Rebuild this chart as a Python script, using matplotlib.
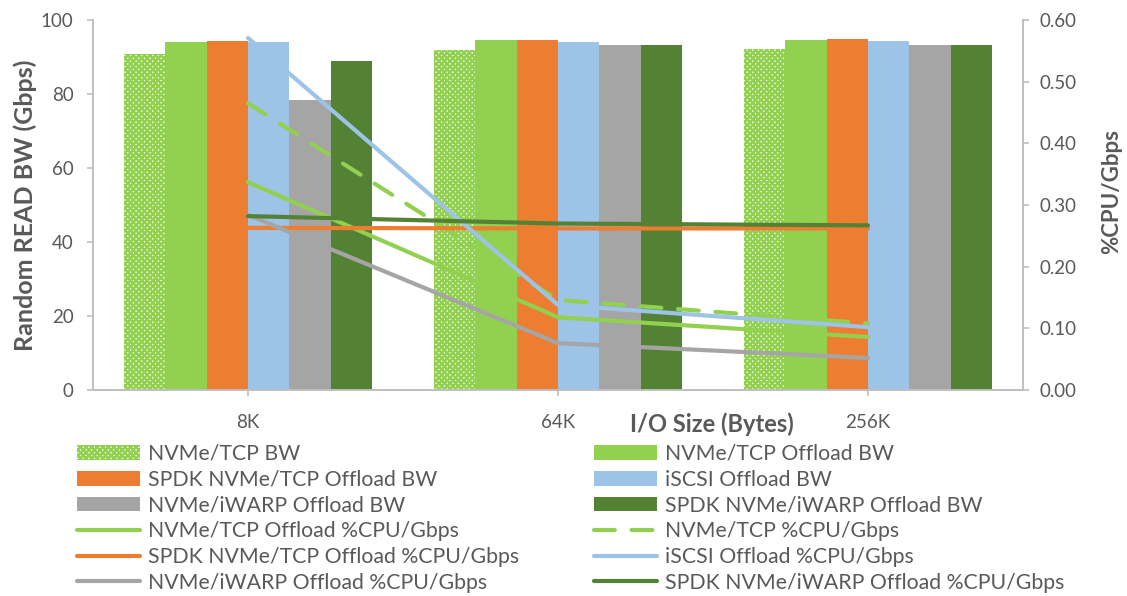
import numpy as np
import matplotlib
matplotlib.use("Agg")
import matplotlib.pyplot as plt
from matplotlib.patches import Patch

plt.rcParams['font.family'] = ['Lato', 'DejaVu Sans']
plt.rcParams['hatch.linewidth'] = 1.8

sizes = ['8K', '64K', '256K']

# bandwidth bars (Gbps)
bw_names = ['NVMe/TCP BW', 'NVMe/TCP Offload BW', 'SPDK NVMe/TCP Offload BW',
            'iSCSI Offload BW', 'NVMe/iWARP Offload BW', 'SPDK NVMe/iWARP Offload BW']
nvme_tcp_bw = [90.7, 92.0, 92.3]
nvme_tcp_off_bw = [94.0, 94.5, 94.6]
spdk_tcp_off_bw = [94.3, 94.5, 94.8]
iscsi_off_bw = [94.0, 94.1, 94.3]
iwarp_off_bw = [78.4, 93.3, 93.3]
spdk_iwarp_off_bw = [88.9, 93.3, 93.3]
bw_data = [nvme_tcp_bw, nvme_tcp_off_bw, spdk_tcp_off_bw,
           iscsi_off_bw, iwarp_off_bw, spdk_iwarp_off_bw]

# %CPU per Gbps lines
cpu_names = ['NVMe/TCP Offload %CPU/Gbps', 'NVMe/TCP %CPU/Gbps',
             'SPDK NVMe/TCP Offload %CPU/Gbps', 'iSCSI Offload %CPU/Gbps',
             'NVMe/iWARP Offload %CPU/Gbps', 'SPDK NVMe/iWARP Offload %CPU/Gbps']
nvme_tcp_off_cpu = [0.337, 0.118, 0.086]
nvme_tcp_cpu = [0.465, 0.146, 0.108]
spdk_tcp_off_cpu = [0.263, 0.262, 0.262]
iscsi_off_cpu = [0.571, 0.138, 0.102]
iwarp_off_cpu = [0.284, 0.076, 0.052]
spdk_iwarp_off_cpu = [0.282, 0.270, 0.267]
cpu_data = [nvme_tcp_off_cpu, nvme_tcp_cpu, spdk_tcp_off_cpu,
            iscsi_off_cpu, iwarp_off_cpu, spdk_iwarp_off_cpu]

green = '#92D050'
orange = '#ED7D31'
blue = '#9DC3E6'
gray = '#A5A5A5'
dkgreen = '#548235'
txt = '#595959'
axc = '#BFBFBF'

bar_colors = [green, green, orange, blue, gray, dkgreen]
line_colors = [green, green, orange, blue, gray, dkgreen]
line_styles = ['-', '--', '-', '-', '-', '-']

fig = plt.figure(figsize=(11.27, 5.96), dpi=100)
ax = fig.add_axes([0.0825, 0.3456, 0.8252, 0.6208])
ax2 = ax.twinx()

x = np.arange(len(sizes))
w = 0.8 / 6
bar_handles = []
for i, (vals, c) in enumerate(zip(bw_data, bar_colors)):
    pos = x - 0.4 + w * (i + 0.5)
    if i == 0:
        ax.bar(pos, vals, w, color='white', edgecolor=c, hatch='xxxxxx', linewidth=0)
        h = Patch(facecolor='white', edgecolor=c, hatch='xxxxxx', linewidth=0)
    else:
        ax.bar(pos, vals, w, color=c, linewidth=0)
        h = Patch(facecolor=c, linewidth=0)
    bar_handles.append(h)

line_handles = []
for vals, c, ls in zip(cpu_data, line_colors, line_styles):
    l, = ax2.plot(x, vals, color=c, lw=3, ls=ls, solid_capstyle='round',
                  dash_capstyle='round')
    if ls == '--':
        l.set_dashes((5, 4))
    line_handles.append(l)

ax.set_xlim(-0.5, 2.5)
ax.set_ylim(0, 100)
ax2.set_ylim(0, 0.6)
ax.set_yticks(np.arange(0, 101, 20))
ax2.set_yticks(np.arange(0, 0.61, 0.1))
ax2.set_yticklabels(['%.2f' % v for v in np.arange(0, 0.61, 0.1)])
ax.set_xticks(x)
ax.set_xticklabels(sizes)

for a in (ax, ax2):
    a.spines['top'].set_visible(False)
    for s in ['left', 'right', 'bottom']:
        a.spines[s].set_color(axc)
        a.spines[s].set_linewidth(1.2)
    a.tick_params(colors=axc, labelcolor=txt, labelsize=13.5, length=4, width=1.2)
ax.tick_params(axis='x', pad=13)
ax.tick_params(axis='y', pad=10)
ax2.tick_params(axis='y', pad=8)

fig.text(25 / 1127, 1 - 205 / 596, 'Random READ BW (Gbps)', fontsize=18, fontweight='bold',
         color=txt, ha='center', va='center', rotation=90)
fig.text(1112 / 1127, 1 - 192 / 596, '%CPU/Gbps', fontsize=16, fontweight='bold',
         color=txt, ha='center', va='center', rotation=90)
fig.text(712 / 1127, 1 - 424 / 596, 'I/O Size (Bytes)', fontsize=17, fontweight='bold',
         color=txt, ha='center', va='center')

# legend: two columns, row-major order like the original
left_h = [bar_handles[0], bar_handles[2], bar_handles[4],
          line_handles[0], line_handles[2], line_handles[4]]
left_l = [bw_names[0], bw_names[2], bw_names[4],
          cpu_names[0], cpu_names[2], cpu_names[4]]
right_h = [bar_handles[1], bar_handles[3], bar_handles[5],
           line_handles[1], line_handles[3], line_handles[5]]
right_l = [bw_names[1], bw_names[3], bw_names[5],
           cpu_names[1], cpu_names[3], cpu_names[5]]

kw = dict(loc='upper left', frameon=False, fontsize=15.3, handlelength=2.96,
          handletextpad=0.38, labelspacing=0.27, labelcolor=txt, borderpad=0,
          borderaxespad=0)
fig.legend(left_h, left_l, bbox_to_anchor=(77 / 1127, 1 - 444 / 596), **kw)
fig.legend(right_h, right_l, bbox_to_anchor=(594 / 1127, 1 - 444 / 596), **kw)

fig.savefig('out.png', dpi=100)
